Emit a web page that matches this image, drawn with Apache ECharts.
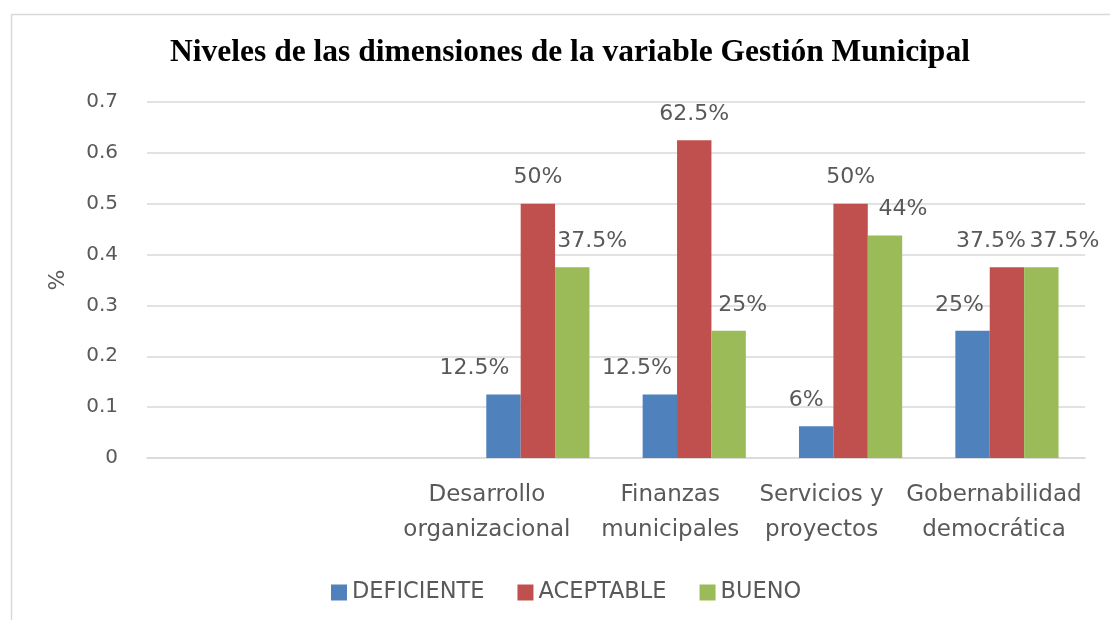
<!DOCTYPE html>
<html>
<head>
<meta charset="utf-8">
<title>Niveles de las dimensiones de la variable Gestión Municipal</title>
<script src="https://cdn.jsdelivr.net/npm/echarts@6/dist/echarts.min.js"></script>
<style>
  html, body { margin: 0; padding: 0; background: #fff; overflow: hidden; }
  #chart { width: 1110px; height: 620px; }
</style>
</head>
<body>
<div id="chart"></div>
<script>
// 数据：前两个类别在原图中为空
const categories = ['', '', 'Desarrollo\norganizacional', 'Finanzas\nmunicipales', 'Servicios y\nproyectos', 'Gobernabilidad\ndemocrática'];
const deficiente = [null, null, 0.125, 0.125, 0.0625, 0.25];
const aceptable = [null, null, 0.5, 0.625, 0.5, 0.375];
const bueno = [null, null, 0.375, 0.25, 0.4375, 0.375];
const deficienteLabels = ['', '', '12.5%', '12.5%', '6%', '25%'];
const aceptableLabels = ['', '', '50%', '62.5%', '50%', '37.5%'];
const buenoLabels = ['', '', '37.5%', '25%', '44%', '37.5%'];
const yTicks = [0, 0.1, 0.2, 0.3, 0.4, 0.5, 0.6, 0.7];

// 样式（与数据分开）：标签水平偏移，模拟原图的手动摆放
const catShift = [0, 0, -51, -24, -29, -13];
const defShift = [0, 0, -29, -23, -10, -13];
const aceShift = [0, 0, 0, 0, 0, -16];
const bueShift = [0, 0, 20, 14, 18, 23];

const FONT = 'DejaVu Sans';
const GREY = '#595959';
const LINE = '#d9d9d9';

function barSeries(name, color, values, labels, shifts) {
  return {
    name, type: 'bar', barGap: 0, barCategoryGap: '34%',
    itemStyle: { color },
    data: values.map((v, i) => ({
      value: v,
      label: { formatter: labels[i], offset: [shifts[i], 0] },
    })),
    label: {
      show: true, position: 'top', distance: 15,
      color: GREY, fontFamily: FONT, fontSize: 22,
    },
  };
}

const chart = echarts.init(document.getElementById('chart'));
chart.setOption({
  animation: false,
  backgroundColor: '#fff',
  graphic: [{
    type: 'rect', left: 9, top: 12,
    shape: { width: 1200, height: 700 },
    style: { fill: 'none', stroke: LINE, lineWidth: 1.5 },
  }],
  title: {
    text: 'Niveles de las dimensiones de la variable Gestión Municipal',
    left: 565, top: 32, textAlign: 'center',
    textStyle: { fontFamily: 'Liberation Serif', fontWeight: 'bold', fontSize: 31.5, color: '#000' },
  },
  legend: {
    left: 326, top: 576, itemWidth: 16, itemHeight: 16, itemGap: 33,
    icon: 'rect',
    textStyle: { fontFamily: FONT, fontSize: 22.5, color: GREY },
    data: ['DEFICIENTE', 'ACEPTABLE', 'BUENO'],
  },
  grid: { left: 147, right: 17, top: 102, bottom: 162, containLabel: false },
  xAxis: {
    type: 'category',
    data: categories.map((c, i) => ({
      value: c,
      textStyle: { padding: catShift[i] < 0 ? [0, -2 * catShift[i], 0, 0] : 0 },
    })),
    axisLine: { lineStyle: { color: LINE, width: 1.5 } },
    axisTick: { show: false },
    axisLabel: {
      interval: 0, margin: 20, color: GREY, fontFamily: FONT,
      fontSize: 23, lineHeight: 35,
    },
  },
  yAxis: {
    type: 'value', min: 0, max: yTicks[yTicks.length - 1], interval: 0.1,
    name: '%', nameLocation: 'middle', nameGap: 78, nameRotate: 90,
    nameTextStyle: { color: GREY, fontFamily: FONT, fontSize: 22 },
    axisLine: { show: false },
    axisTick: { show: false },
    axisLabel: { margin: 29, color: GREY, fontFamily: FONT, fontSize: 20 },
    splitLine: { lineStyle: { color: LINE, width: 1.5 } },
  },
  series: [
    barSeries('DEFICIENTE', '#4f81bd', deficiente, deficienteLabels, defShift),
    barSeries('ACEPTABLE', '#c0504d', aceptable, aceptableLabels, aceShift),
    barSeries('BUENO', '#9bbb59', bueno, buenoLabels, bueShift),
  ],
});

window.addEventListener('resize', () => chart.resize());
</script>
</body>
</html>
